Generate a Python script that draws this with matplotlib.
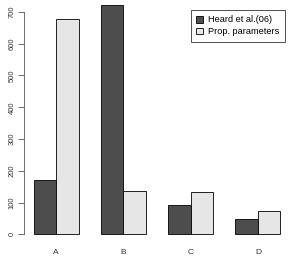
import matplotlib
matplotlib.use('Agg')
import matplotlib.pyplot as plt
from matplotlib.patches import Patch
import numpy as np

categories = ['A', 'B', 'C', 'D']
heard = [171, 722, 92, 48]
prop = [678, 137, 132, 73]
series_names = ['Heard et al.(06)', 'Prop. parameters']
colors = ['#4D4D4D', '#E6E6E6']
yticks = [0, 100, 200, 300, 400, 500, 600, 700]

plt.rcParams['font.family'] = ['Liberation Sans', 'DejaVu Sans']

W, H = 292, 262
fig = plt.figure(figsize=(W / 100, H / 100), dpi=100, facecolor='white')
# axes placed in pixels (left, bottom from top)
left_px, right_px = 23.8, 290.2
top_px, bot_px = -4.2, 243.5
ax = fig.add_axes([left_px / W, (H - bot_px) / H,
                   (right_px - left_px) / W, (bot_px - top_px) / H])

# R barplot beside=TRUE layout: width 1, space 1 between groups
x_heard = np.array([1.5, 4.5, 7.5, 10.5])
x_prop = x_heard + 1
ax.bar(x_heard, heard, width=1, color=colors[0], edgecolor='black', linewidth=0.6)
ax.bar(x_prop, prop, width=1, color=colors[1], edgecolor='black', linewidth=0.6)

ax.set_xlim(0.56, 12.44)
ax.set_ylim(-28.9, 750.9)

for s in ['top', 'right', 'bottom']:
    ax.spines[s].set_visible(False)
ax.spines['left'].set_bounds(0, 700)
ax.spines['left'].set_linewidth(0.6)
ax.spines['left'].set_color('#555555')

ax.set_yticks(yticks)
ax.set_yticklabels([str(v) for v in yticks], rotation=90, va='center',
                   fontsize=5.5, color='#333333')
ax.tick_params(axis='y', length=4, width=0.6, color='#555555', pad=2)

ax.set_xticks((x_heard + x_prop) / 2)
ax.set_xticklabels(categories, fontsize=6, color='#333333', rotation=0)
ax.tick_params(axis='x', length=0, pad=4)

handles = [Patch(facecolor=colors[0], edgecolor='black', linewidth=0.6),
           Patch(facecolor=colors[1], edgecolor='black', linewidth=0.6)]
leg = ax.legend(handles, series_names, loc='upper left',
                bbox_to_anchor=(190.7 / W, 1 - 10 / H),
                bbox_transform=fig.transFigure,
                fontsize=6.6, frameon=True, fancybox=False,
                edgecolor='black', handlelength=0.7, handleheight=0.7,
                handletextpad=0.6, borderpad=0.6, labelspacing=0.3,
                borderaxespad=0)
leg.get_frame().set_linewidth(0.6)

fig.savefig('out.png', dpi=100)
